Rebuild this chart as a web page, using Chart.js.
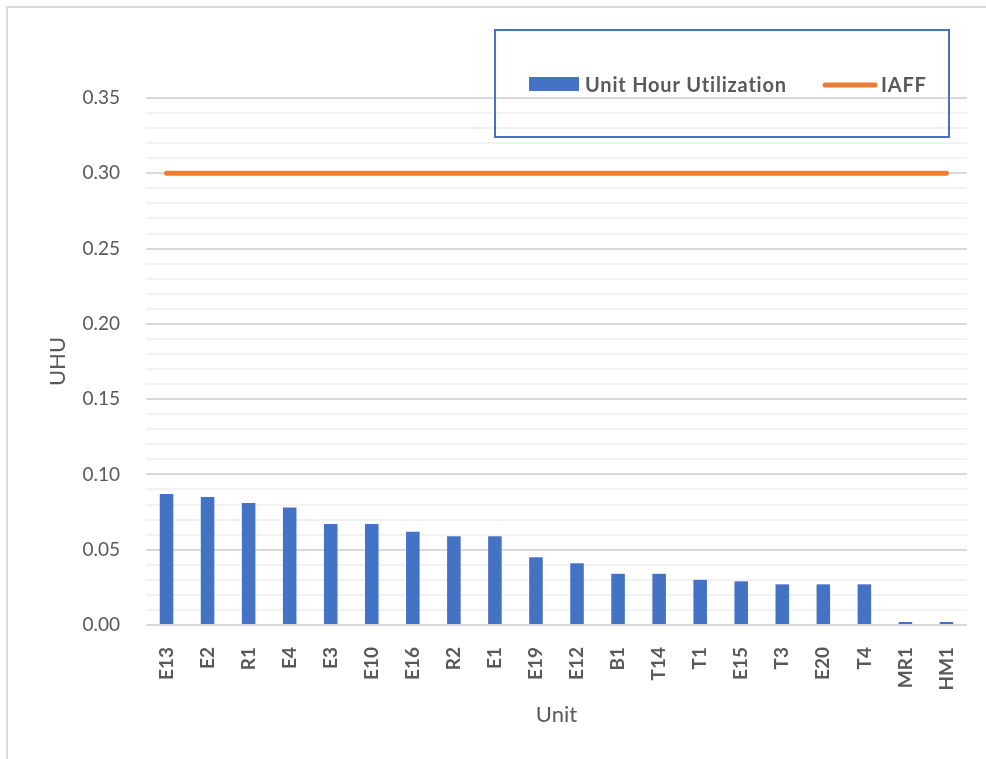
<!DOCTYPE html>
<html>
<head>
<meta charset="utf-8">
<script src="https://cdn.jsdelivr.net/npm/chart.js@4.4.1/dist/chart.umd.min.js"></script>
<style>
  html, body { margin: 0; padding: 0; background: #fff; overflow: hidden; }
  #frame {
    position: absolute; left: 6px; top: 6px; width: 1000px; height: 760px;
    border-left: 2px solid #d9d9d9; border-top: 2px solid #d9d9d9;
  }
  #wrap { position: absolute; left: 0; top: 0; width: 986px; height: 759px; }
</style>
</head>
<body>
<div id="frame"></div>
<div id="wrap"><canvas id="myChart" width="986" height="759"></canvas></div>
<script>
const units = ["E13", "E2", "R1", "E4", "E3", "E10", "E16", "R2", "E1", "E19",
  "E12", "B1", "T14", "T1", "E15", "T3", "E20", "T4", "MR1", "HM1"];
const uhu = [0.087, 0.085, 0.081, 0.078, 0.067, 0.067, 0.062, 0.059, 0.059, 0.045,
  0.041, 0.034, 0.034, 0.030, 0.029, 0.027, 0.027, 0.027, 0.002, 0.002];
const iaff = units.map(() => 0.30);

const blue = "#4472C4";
const orange = "#ED7D31";
const grey = "#595959";
const font = "Lato, 'Open Sans', sans-serif";

// legend sits in its own bordered box on top of the plot (gridlines show through)
const legendBox = {
  id: "legendBox",
  afterDraw(chart) {
    const c = chart.ctx;
    c.save();
    c.strokeStyle = blue;
    c.lineWidth = 2;
    c.strokeRect(495, 30, 454, 107);

    c.font = "bold 20px " + font;
    c.letterSpacing = "0.8px";
    c.textBaseline = "middle";

    c.fillStyle = blue;
    c.fillRect(529, 77, 50, 14);
    c.fillStyle = grey;
    c.fillText(chart.data.datasets[0].label, 585, 86);

    c.strokeStyle = orange;
    c.lineWidth = 5;
    c.lineCap = "round";
    c.beginPath();
    c.moveTo(825, 85);
    c.lineTo(875, 85);
    c.stroke();
    c.fillText(chart.data.datasets[1].label, 881, 86);
    c.restore();
  }
};

const ctx = document.getElementById("myChart").getContext("2d");

const data = {
  labels: units,
  datasets: [
    {
      type: "bar",
      label: "Unit Hour Utilization",
      data: uhu,
      backgroundColor: blue,
      barPercentage: 0.33,
      categoryPercentage: 1,
      order: 1,
    },
    {
      type: "line",
      label: "IAFF",
      data: iaff,
      borderColor: orange,
      borderWidth: 5,
      borderCapStyle: "round",
      pointRadius: 0,
      order: 0,
    },
  ],
};

const config = {
  data: data,
  options: {
    responsive: false,
    animation: false,
    layout: { padding: { top: 98, right: 19, bottom: 0, left: 0 } },
    plugins: { legend: { display: false }, tooltip: { enabled: false } },
    scales: {
      x: {
        grid: { display: false },
        border: { display: false },
        ticks: {
          color: grey,
          font: { family: font, size: 19, weight: "bold" },
          minRotation: 90,
          maxRotation: 90,
          padding: 14,
        },
        title: {
          display: true,
          text: "Unit",
          color: grey,
          font: { family: font, size: 22 },
          padding: { top: 0, bottom: 31 },
        },
        afterFit(scale) { scale.height = 134; },
      },
      y: {
        min: 0,
        max: 0.35,
        border: { display: false },
        grid: {
          drawTicks: false,
          lineWidth: 2,
          color: (c) => Math.round(c.tick.value * 100) % 5 === 0 ? "#d9d9d9" : "#f2f2f2",
        },
        ticks: {
          stepSize: 0.01,
          color: grey,
          font: { family: font, size: 19 },
          padding: 26,
          autoSkip: false,
          callback: (v) => Math.round(v * 100) % 5 === 0 ? v.toFixed(2) : "",
        },
        title: {
          display: true,
          text: "UHU",
          color: grey,
          font: { family: font, size: 22 },
          padding: { top: 45, bottom: 0 },
        },
        afterFit(scale) { scale.width = 146; },
      },
    },
  },
  plugins: [legendBox],
};

const myChart = new Chart(ctx, config);
</script>
</body>
</html>
